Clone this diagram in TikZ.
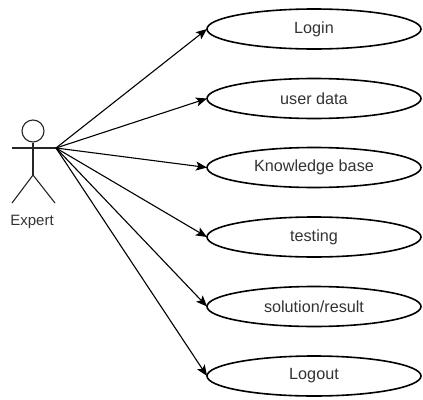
\documentclass[tikz,border=0pt]{standalone}
\usepackage{fontspec}
\setmainfont{Liberation Sans}
\usetikzlibrary{shapes.geometric,arrows.meta}
\begin{document}
\begin{tikzpicture}[x=1pt,y=-1pt,
  usecase/.style={ellipse,draw=black,line width=1.6pt,minimum width=214pt,minimum height=40pt,inner sep=0pt,outer sep=0pt,text=black!80,font=\fontsize{16.2}{19}\selectfont},
  actorline/.style={draw=black!85,line width=1.1pt},
  conn/.style={draw=black,line width=1.1pt,-{Stealth[length=11pt,width=9pt,inset=2.5pt]}}]
\useasboundingbox (0,0) rectangle (423,399);
% actor
\node[circle,actorline,minimum size=22pt,inner sep=0pt] (head) at (33,131) {};
\coordinate (lhand) at (12,148);
\coordinate (hand) at (56,148);
\coordinate (hip) at (33,175);
\coordinate (lfoot) at (12,203);
\coordinate (rfoot) at (55,203);
\draw[actorline] (lhand) -- (hand);
\draw[actorline] (head.south) -- (hip);
\draw[actorline] (lfoot) -- (hip) -- (rfoot);
\node[text=black!80,font=\fontsize{15}{18}\selectfont] (expert) at (32,222) {Expert};
% use cases
\node[usecase] (login) at (314,29) {Login};
\node[usecase] (userdata) at (314,98.5) {user data};
\node[usecase] (kb) at (314,167.5) {Knowledge base};
\node[usecase] (testing) at (314,237) {testing};
\node[usecase] (solution) at (314,306.5) {solution/result};
\node[usecase] (logout) at (314,376) {Logout};
% connectors
\foreach \t in {login,userdata,kb,testing,solution,logout}
  \draw[conn] (hand) -- (\t.west);
\end{tikzpicture}
\end{document}
